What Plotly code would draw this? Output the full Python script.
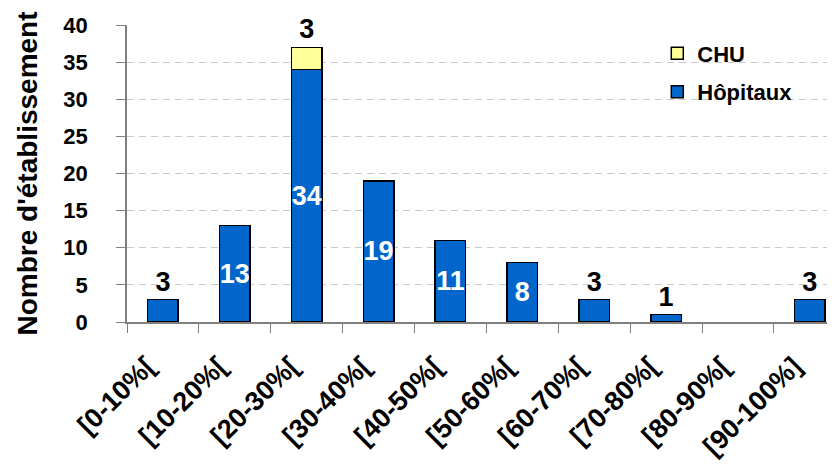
import plotly.graph_objects as go

categories = ["[0-10%[", "[10-20%[", "[20-30%[", "[30-40%[", "[40-50%[",
              "[50-60%[", "[60-70%[", "[70-80%[", "[80-90%[", "[90-100%]"]
hopitaux = [3, 13, 34, 19, 11, 8, 3, 1, 0, 3]
chu = [0, 0, 3, 0, 0, 0, 0, 0, 0, 0]
y_ticks = [0, 5, 10, 15, 20, 25, 30, 35, 40]

FONT = "Liberation Sans, Arial, sans-serif"

hop_y = [v if v else None for v in hopitaux]
chu_y = [v if v else None for v in chu]
hop_text = [str(v) if v else "" for v in hopitaux]
hop_pos = ["inside" if v >= 5 else "outside" for v in hopitaux]
chu_text = [str(v) if v else "" for v in chu]
tick_text = [c + "\u00a0" * 3 for c in categories]

fig = go.Figure()
fig.add_trace(go.Bar(
    name="Hôpitaux", x=categories, y=hop_y, width=0.425,
    legendgroup="h", legendrank=2,
    marker=dict(color="#0066CC", line=dict(color="black", width=1.5)),
    text=hop_text, textposition=hop_pos, textangle=0,
    insidetextanchor="middle",
    insidetextfont=dict(family=FONT, size=27, color="white", weight="bold"),
    outsidetextfont=dict(family=FONT, size=27, color="black", weight="bold"),
    cliponaxis=False,
))
fig.add_trace(go.Bar(
    name="CHU", x=categories, y=chu_y, width=0.425,
    legendgroup="c", legendrank=1,
    marker=dict(color="#FFFF99", line=dict(color="black", width=1.5)),
    text=chu_text, textposition="outside", textangle=0,
    outsidetextfont=dict(family=FONT, size=27, color="black", weight="bold"),
    cliponaxis=False,
))

fig.update_layout(
    barmode="stack",
    width=827, height=461,
    margin=dict(l=119, r=0, t=17, b=147),
    paper_bgcolor="white", plot_bgcolor="white",
    font=dict(family=FONT, size=20, color="black"),
    showlegend=True,
    uniformtext=dict(minsize=27, mode="show"),
    legend=dict(x=0.749, y=0.975, xanchor="left", yanchor="top",
                traceorder="grouped", tracegroupgap=7,
                font=dict(family=FONT, size=22, color="black", weight="bold"),
                bgcolor="rgba(0,0,0,0)", itemwidth=30),
)
fig.update_xaxes(
    type="category", range=[-0.5, 9.35], automargin=False,
    tickvals=categories, ticktext=tick_text,
    tickangle=-45, tickson="boundaries",
    ticks="outside", ticklen=9, tickcolor="#808080",
    showline=True, linecolor="#808080", linewidth=1.5,
    ticklabelstandoff=0,
    tickfont=dict(family=FONT, size=27, color="black", weight="bold"),
    showgrid=False,
)
fig.update_yaxes(
    range=[0, 40], tickvals=y_ticks, automargin=False,
    ticks="outside", ticklen=9, tickcolor="#808080",
    showline=True, linecolor="#808080", linewidth=1.5,
    showgrid=True, gridcolor="#C8C8C8", griddash="7px,5px", gridwidth=1,
    zeroline=False, ticklabelstandoff=24,
    tickfont=dict(family=FONT, size=22, color="black", weight="bold"),
    title=dict(text="Nombre d'établissement", standoff=18,
               font=dict(family=FONT, size=28, color="black", weight="bold")),
)

fig.write_html("out.html")
